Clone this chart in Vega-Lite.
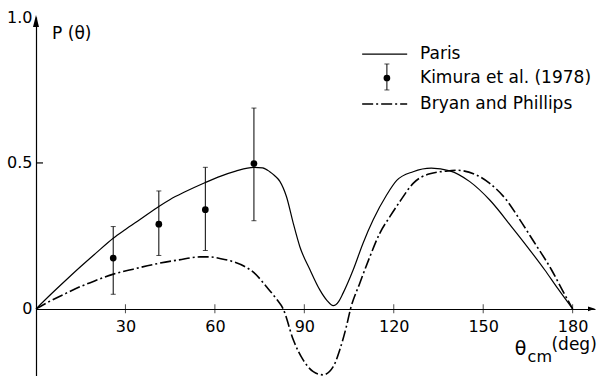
{
  "$schema": "https://vega.github.io/schema/vega-lite/v6.json",
  "width": 559,
  "height": 359,
  "autosize": {"type": "none"},
  "padding": {"left": 36, "top": 17, "right": 6, "bottom": 0},
  "background": "white",
  "config": {
    "view": {"stroke": null},
    "font": "DejaVu Sans",
    "axis": {"labelFont": "DejaVu Sans", "labelColor": "black", "domainColor": "black", "grid": false}
  },
  "datasets": {
    "paris": [
      {"theta": 0, "p": 0}, {"theta": 5, "p": 0.05}, {"theta": 10, "p": 0.098}, {"theta": 15, "p": 0.145},
      {"theta": 20, "p": 0.19}, {"theta": 25.9, "p": 0.242}, {"theta": 30, "p": 0.272}, {"theta": 35, "p": 0.307},
      {"theta": 41.2, "p": 0.351}, {"theta": 45, "p": 0.375}, {"theta": 50, "p": 0.401}, {"theta": 56.8, "p": 0.433},
      {"theta": 62, "p": 0.455}, {"theta": 67, "p": 0.472}, {"theta": 73, "p": 0.485}, {"theta": 76, "p": 0.483},
      {"theta": 78.4, "p": 0.47}, {"theta": 80, "p": 0.457}, {"theta": 81.8, "p": 0.437}, {"theta": 84, "p": 0.385},
      {"theta": 86.3, "p": 0.293}, {"theta": 88.5, "p": 0.213}, {"theta": 91.9, "p": 0.134}, {"theta": 95.2, "p": 0.065},
      {"theta": 97.5, "p": 0.03}, {"theta": 99.7, "p": 0.011}, {"theta": 101.5, "p": 0.025}, {"theta": 103, "p": 0.054},
      {"theta": 106.4, "p": 0.134}, {"theta": 109.7, "p": 0.225}, {"theta": 113.1, "p": 0.305}, {"theta": 117.6, "p": 0.39},
      {"theta": 121, "p": 0.44}, {"theta": 126.5, "p": 0.47}, {"theta": 132.6, "p": 0.482}, {"theta": 138.8, "p": 0.473},
      {"theta": 145.5, "p": 0.436}, {"theta": 152.2, "p": 0.373}, {"theta": 160, "p": 0.275}, {"theta": 165, "p": 0.21},
      {"theta": 170.6, "p": 0.134}, {"theta": 175, "p": 0.07}, {"theta": 180, "p": 0}
    ],
    "bryan": [
      {"theta": 0, "p": 0}, {"theta": 5, "p": 0.028}, {"theta": 10, "p": 0.053}, {"theta": 14.8, "p": 0.076},
      {"theta": 20, "p": 0.097}, {"theta": 26, "p": 0.119}, {"theta": 32.6, "p": 0.136}, {"theta": 41.2, "p": 0.156},
      {"theta": 48, "p": 0.168}, {"theta": 55, "p": 0.178}, {"theta": 58, "p": 0.178}, {"theta": 62, "p": 0.172},
      {"theta": 66, "p": 0.162}, {"theta": 70, "p": 0.145}, {"theta": 73, "p": 0.125}, {"theta": 77.3, "p": 0.076},
      {"theta": 80.7, "p": 0.033}, {"theta": 82.9, "p": 0}, {"theta": 86.3, "p": -0.106}, {"theta": 89.6, "p": -0.175},
      {"theta": 93, "p": -0.215}, {"theta": 96.3, "p": -0.226}, {"theta": 99.7, "p": -0.198}, {"theta": 101.9, "p": -0.14},
      {"theta": 104.1, "p": -0.061}, {"theta": 105.5, "p": 0}, {"theta": 108.6, "p": 0.088}, {"theta": 112, "p": 0.179},
      {"theta": 115.3, "p": 0.259}, {"theta": 118.7, "p": 0.316}, {"theta": 122, "p": 0.367}, {"theta": 126.5, "p": 0.43},
      {"theta": 132.1, "p": 0.463}, {"theta": 138.8, "p": 0.473}, {"theta": 141, "p": 0.475}, {"theta": 147.7, "p": 0.459},
      {"theta": 152.2, "p": 0.43}, {"theta": 157.8, "p": 0.373}, {"theta": 162, "p": 0.31}, {"theta": 167, "p": 0.23},
      {"theta": 172.9, "p": 0.134}, {"theta": 176.5, "p": 0.065}, {"theta": 180, "p": 0}
    ],
    "kimura": [
      {"theta": 25.9, "p": 0.174, "lo": 0.05, "hi": 0.282},
      {"theta": 41.2, "p": 0.29, "lo": 0.183, "hi": 0.404},
      {"theta": 56.8, "p": 0.34, "lo": 0.2, "hi": 0.485},
      {"theta": 73.1, "p": 0.498, "lo": 0.302, "hi": 0.688}
    ],
    "ticks": [
      {"theta": 30}, {"theta": 60}, {"theta": 90}, {"theta": 120}, {"theta": 150}, {"theta": 180}
    ],
    "one": [{"k": 1}]
  },
  "layer": [
    {
      "data": {"name": "paris"},
      "mark": {"type": "line", "color": "black", "strokeWidth": 1.2, "interpolate": "monotone"},
      "encoding": {
        "x": {
          "field": "theta", "type": "quantitative", "title": null,
          "scale": {"domain": [0, 187.5], "nice": false, "zero": false},
          "axis": {"values": [30, 60, 90, 120, 150, 180], "orient": "bottom", "offset": -67, "ticks": false, "domain": true, "domainWidth": 1.2, "labelPadding": 9, "labelFontSize": 16, "labelFlush": false, "title": null}
        },
        "y": {
          "field": "p", "type": "quantitative", "title": null,
          "scale": {"domain": [-0.23, 1.0], "nice": false, "zero": false},
          "axis": {"values": [0, 0.5, 1], "labelExpr": "datum.value == 0 ? '0' : format(datum.value, '.1f')", "ticks": false, "domain": true, "domainWidth": 1.2, "labelPadding": 4, "labelFontSize": 16, "title": null}
        }
      }
    },
    {
      "data": {"name": "bryan"},
      "mark": {"type": "line", "color": "black", "strokeWidth": 1.6, "strokeDash": [11, 3, 2, 3], "interpolate": "monotone"},
      "encoding": {
        "x": {"field": "theta", "type": "quantitative", "title": null, "scale": {"domain": [0, 187.5], "nice": false, "zero": false}},
        "y": {"field": "p", "type": "quantitative", "title": null, "scale": {"domain": [-0.23, 1.0], "nice": false, "zero": false}}
      }
    },
    {
      "data": {"name": "kimura"},
      "mark": {"type": "rule", "color": "black", "strokeWidth": 1},
      "encoding": {
        "x": {"field": "theta", "type": "quantitative", "title": null, "scale": {"domain": [0, 187.5], "nice": false, "zero": false}},
        "y": {"field": "lo", "type": "quantitative", "title": null, "scale": {"domain": [-0.23, 1.0], "nice": false, "zero": false}},
        "y2": {"field": "hi"}
      }
    },
    {
      "data": {"name": "kimura"},
      "mark": {"type": "tick", "orient": "horizontal", "color": "black", "size": 5, "thickness": 1},
      "encoding": {
        "x": {"field": "theta", "type": "quantitative", "title": null, "scale": {"domain": [0, 187.5], "nice": false, "zero": false}},
        "y": {"field": "lo", "type": "quantitative", "title": null, "scale": {"domain": [-0.23, 1.0], "nice": false, "zero": false}}
      }
    },
    {
      "data": {"name": "kimura"},
      "mark": {"type": "tick", "orient": "horizontal", "color": "black", "size": 5, "thickness": 1},
      "encoding": {
        "x": {"field": "theta", "type": "quantitative", "title": null, "scale": {"domain": [0, 187.5], "nice": false, "zero": false}},
        "y": {"field": "hi", "type": "quantitative", "title": null, "scale": {"domain": [-0.23, 1.0], "nice": false, "zero": false}}
      }
    },
    {
      "data": {"name": "kimura"},
      "mark": {"type": "point", "shape": "circle", "filled": true, "color": "black", "size": 45, "opacity": 1},
      "encoding": {
        "x": {"field": "theta", "type": "quantitative", "title": null, "scale": {"domain": [0, 187.5], "nice": false, "zero": false}},
        "y": {"field": "p", "type": "quantitative", "title": null, "scale": {"domain": [-0.23, 1.0], "nice": false, "zero": false}}
      }
    },
    {
      "data": {"name": "ticks"},
      "mark": {"type": "tick", "orient": "vertical", "color": "black", "size": 9, "thickness": 1},
      "encoding": {
        "x": {"field": "theta", "type": "quantitative", "title": null, "scale": {"domain": [0, 187.5], "nice": false, "zero": false}},
        "y": {"datum": 0, "type": "quantitative", "title": null, "scale": {"domain": [-0.23, 1.0], "nice": false, "zero": false}}
      }
    },
    {
      "data": {"name": "one"},
      "mark": {"type": "rule", "color": "black", "strokeWidth": 1.2},
      "encoding": {
        "x": {"datum": 0, "type": "quantitative", "title": null, "scale": {"domain": [0, 187.5], "nice": false, "zero": false}},
        "x2": {"datum": 2.35},
        "y": {"datum": 0.5, "type": "quantitative", "title": null, "scale": {"domain": [-0.23, 1.0], "nice": false, "zero": false}}
      }
    },
    {
      "data": {"name": "one"},
      "mark": {"type": "point", "filled": true, "color": "black", "opacity": 1, "size": 64, "shape": "M0,-0.5L0.75,2.5L-0.75,2.5Z"},
      "encoding": {
        "x": {"datum": 0, "type": "quantitative", "title": null, "scale": {"domain": [0, 187.5], "nice": false, "zero": false}},
        "y": {"datum": 1, "type": "quantitative", "title": null, "scale": {"domain": [-0.23, 1.0], "nice": false, "zero": false}}
      }
    },
    {
      "data": {"name": "one"},
      "mark": {"type": "point", "filled": true, "color": "black", "opacity": 1, "size": 64, "shape": "M0,0L-1.75,-0.6L-1.75,0.6Z"},
      "encoding": {
        "x": {"datum": 187.5, "type": "quantitative", "title": null, "scale": {"domain": [0, 187.5], "nice": false, "zero": false}},
        "y": {"datum": 0, "type": "quantitative", "title": null, "scale": {"domain": [-0.23, 1.0], "nice": false, "zero": false}}
      }
    },
    {
      "data": {"name": "one"},
      "mark": {"type": "rule", "color": "black", "strokeWidth": 1.2},
      "encoding": {
        "x": {"datum": 109.4, "type": "quantitative", "title": null, "scale": {"domain": [0, 187.5], "nice": false, "zero": false}},
        "x2": {"datum": 124.5},
        "y": {"datum": 0.873, "type": "quantitative", "title": null, "scale": {"domain": [-0.23, 1.0], "nice": false, "zero": false}}
      }
    },
    {
      "data": {"name": "one"},
      "mark": {"type": "rule", "color": "black", "strokeWidth": 1.6, "strokeDash": [11, 3, 2, 3]},
      "encoding": {
        "x": {"datum": 109.4, "type": "quantitative", "title": null, "scale": {"domain": [0, 187.5], "nice": false, "zero": false}},
        "x2": {"datum": 124.5},
        "y": {"datum": 0.702, "type": "quantitative", "title": null, "scale": {"domain": [-0.23, 1.0], "nice": false, "zero": false}}
      }
    },
    {
      "data": {"name": "one"},
      "mark": {"type": "rule", "color": "black", "strokeWidth": 1},
      "encoding": {
        "x": {"datum": 117.7, "type": "quantitative", "title": null, "scale": {"domain": [0, 187.5], "nice": false, "zero": false}},
        "y": {"datum": 0.75, "type": "quantitative", "title": null, "scale": {"domain": [-0.23, 1.0], "nice": false, "zero": false}},
        "y2": {"datum": 0.839}
      }
    },
    {
      "data": {"name": "one"},
      "mark": {"type": "tick", "orient": "horizontal", "color": "black", "size": 5, "thickness": 1},
      "encoding": {
        "x": {"datum": 117.7, "type": "quantitative", "title": null, "scale": {"domain": [0, 187.5], "nice": false, "zero": false}},
        "y": {"datum": 0.75, "type": "quantitative", "title": null, "scale": {"domain": [-0.23, 1.0], "nice": false, "zero": false}}
      }
    },
    {
      "data": {"name": "one"},
      "mark": {"type": "tick", "orient": "horizontal", "color": "black", "size": 5, "thickness": 1},
      "encoding": {
        "x": {"datum": 117.7, "type": "quantitative", "title": null, "scale": {"domain": [0, 187.5], "nice": false, "zero": false}},
        "y": {"datum": 0.839, "type": "quantitative", "title": null, "scale": {"domain": [-0.23, 1.0], "nice": false, "zero": false}}
      }
    },
    {
      "data": {"name": "one"},
      "mark": {"type": "point", "shape": "circle", "filled": true, "color": "black", "opacity": 1, "size": 45},
      "encoding": {
        "x": {"datum": 117.7, "type": "quantitative", "title": null, "scale": {"domain": [0, 187.5], "nice": false, "zero": false}},
        "y": {"datum": 0.791, "type": "quantitative", "title": null, "scale": {"domain": [-0.23, 1.0], "nice": false, "zero": false}}
      }
    },
    {
      "data": {"name": "one"},
      "mark": {"type": "text", "text": "Paris", "font": "DejaVu Sans", "fontSize": 17, "align": "left", "baseline": "middle", "color": "black"},
      "encoding": {
        "x": {"datum": 128.8, "type": "quantitative", "title": null, "scale": {"domain": [0, 187.5], "nice": false, "zero": false}},
        "y": {"datum": 0.873, "type": "quantitative", "title": null, "scale": {"domain": [-0.23, 1.0], "nice": false, "zero": false}}
      }
    },
    {
      "data": {"name": "one"},
      "mark": {"type": "text", "text": "Kimura et al. (1978)", "font": "DejaVu Sans", "fontSize": 17, "align": "left", "baseline": "middle", "color": "black"},
      "encoding": {
        "x": {"datum": 128.8, "type": "quantitative", "title": null, "scale": {"domain": [0, 187.5], "nice": false, "zero": false}},
        "y": {"datum": 0.791, "type": "quantitative", "title": null, "scale": {"domain": [-0.23, 1.0], "nice": false, "zero": false}}
      }
    },
    {
      "data": {"name": "one"},
      "mark": {"type": "text", "text": "Bryan and Phillips", "font": "DejaVu Sans", "fontSize": 17, "align": "left", "baseline": "middle", "color": "black"},
      "encoding": {
        "x": {"datum": 128.8, "type": "quantitative", "title": null, "scale": {"domain": [0, 187.5], "nice": false, "zero": false}},
        "y": {"datum": 0.702, "type": "quantitative", "title": null, "scale": {"domain": [-0.23, 1.0], "nice": false, "zero": false}}
      }
    },
    {
      "data": {"name": "one"},
      "mark": {"type": "text", "text": "P (θ)", "font": "DejaVu Sans", "fontSize": 17, "align": "left", "baseline": "middle", "color": "black"},
      "encoding": {
        "x": {"datum": 5.4, "type": "quantitative", "title": null, "scale": {"domain": [0, 187.5], "nice": false, "zero": false}},
        "y": {"datum": 0.942, "type": "quantitative", "title": null, "scale": {"domain": [-0.23, 1.0], "nice": false, "zero": false}}
      }
    },
    {
      "data": {"name": "one"},
      "mark": {"type": "text", "text": "θ", "font": "DejaVu Sans", "fontSize": 19, "align": "left", "baseline": "alphabetic", "color": "black"},
      "encoding": {
        "x": {"datum": 160.6, "type": "quantitative", "title": null, "scale": {"domain": [0, 187.5], "nice": false, "zero": false}},
        "y": {"datum": -0.1575, "type": "quantitative", "title": null, "scale": {"domain": [-0.23, 1.0], "nice": false, "zero": false}}
      }
    },
    {
      "data": {"name": "one"},
      "mark": {"type": "text", "text": "cm", "font": "DejaVu Sans", "fontSize": 16, "align": "left", "baseline": "alphabetic", "color": "black"},
      "encoding": {
        "x": {"datum": 164.9, "type": "quantitative", "title": null, "scale": {"domain": [0, 187.5], "nice": false, "zero": false}},
        "y": {"datum": -0.1815, "type": "quantitative", "title": null, "scale": {"domain": [-0.23, 1.0], "nice": false, "zero": false}}
      }
    },
    {
      "data": {"name": "one"},
      "mark": {"type": "text", "text": "(deg)", "font": "DejaVu Sans", "fontSize": 17, "align": "left", "baseline": "alphabetic", "color": "black"},
      "encoding": {
        "x": {"datum": 172.9, "type": "quantitative", "title": null, "scale": {"domain": [0, 187.5], "nice": false, "zero": false}},
        "y": {"datum": -0.14, "type": "quantitative", "title": null, "scale": {"domain": [-0.23, 1.0], "nice": false, "zero": false}}
      }
    }
  ]
}
